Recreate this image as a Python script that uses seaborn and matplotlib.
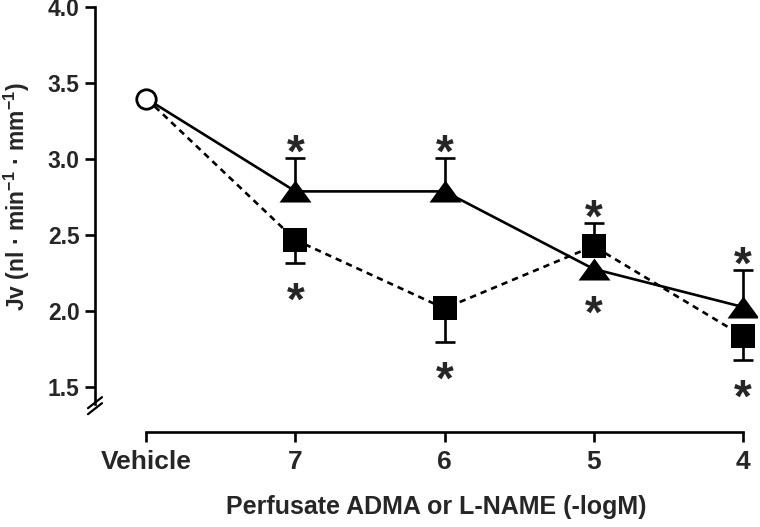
import numpy as np
import pandas as pd
import matplotlib
matplotlib.use('Agg')
import matplotlib.pyplot as plt
import seaborn as sns

# values
labels = ['Vehicle', '7', '6', '5', '4']
adma_mean = [3.40, 2.79, 2.79, 2.28, 2.03]
adma_err_up = [0.0, 0.22, 0.22, 0.0, 0.24]
adma_err_down = [0.0, 0.0, 0.0, 0.05, 0.0]
lname_mean = [3.40, 2.47, 2.02, 2.43, 1.84]
lname_err_up = [0.0, 0.0, 0.0, 0.15, 0.0]
lname_err_down = [0.0, 0.15, 0.22, 0.0, 0.16]
adma_sig = [False, True, True, True, True]
lname_sig = [False, True, True, True, True]

sns.set_style('ticks')
plt.rcParams['font.family'] = ['Liberation Sans', 'DejaVu Sans']
plt.rcParams['font.weight'] = 'bold'
plt.rcParams['mathtext.fontset'] = 'custom'
plt.rcParams['mathtext.rm'] = 'Liberation Sans:bold'
plt.rcParams['mathtext.default'] = 'rm'

pos = np.arange(len(labels))
df = pd.DataFrame({'pos': pos, 'adma': adma_mean, 'lname': lname_mean})

fig = plt.figure(figsize=(7.6, 5.27), dpi=100)
ax = fig.add_axes([0.125, 0.1803, 0.871, 0.8055])

lw = 1.9
sns.lineplot(data=df, x='pos', y='adma', color='black', lw=lw, ax=ax, zorder=2)
sns.lineplot(data=df, x='pos', y='lname', color='black', lw=lw,
             linestyle=(0, (2.4, 1.9)), ax=ax, zorder=2)


def draw_errors(mean, up, down):
    mean = np.asarray(mean)
    up = np.asarray(up)
    down = np.asarray(down)
    ax.errorbar(pos, mean, yerr=[down, up], fmt='none', ecolor='black',
                elinewidth=lw, capsize=0, zorder=2.5)
    tips = np.where(up > 0, mean + up, mean - down)
    has = (up > 0) | (down > 0)
    ax.scatter(pos[has], tips[has], marker='_', s=14 ** 2, color='black',
               linewidths=lw, zorder=2.5)
    return tips


tri = [(-1, -0.69), (1, -0.69), (0, 0.69)]
adma_tips = draw_errors(adma_mean, adma_err_up, adma_err_down)
lname_tips = draw_errors(lname_mean, lname_err_up, lname_err_down)

sns.scatterplot(x=pos[1:], y=adma_mean[1:], marker=tri, s=23 ** 2,
                color='black', edgecolor='black', linewidth=0, ax=ax, zorder=3)
sns.scatterplot(x=pos[1:], y=lname_mean[1:], marker='s', s=17 ** 2,
                color='black', edgecolor='black', linewidth=0, ax=ax, zorder=3)
sns.scatterplot(x=pos[:1], y=adma_mean[:1], marker='o', s=14 ** 2,
                facecolor='white', edgecolor='black', linewidth=2, ax=ax, zorder=4)

# significance stars
for tips, ups, sig in [(adma_tips, adma_err_up, adma_sig),
                       (lname_tips, lname_err_up, lname_sig)]:
    for i in range(len(labels)):
        if not sig[i]:
            continue
        off = -6 if ups[i] > 0 else -37
        ax.annotate('*', (pos[i], tips[i]), xytext=(0, off),
                    textcoords='offset points', ha='center', va='baseline',
                    fontsize=33, fontweight='bold')

ax.set_xlim(-0.3456, 4.097)
ax.set_ylim(1.207, 4.0)
ax.set_xticks(pos)
ax.set_xticklabels(labels, fontsize=19, fontweight='bold')
ax.set_yticks([1.5, 2.0, 2.5, 3.0, 3.5, 4.0])
ax.set_yticklabels(['1.5', '2.0', '2.5', '3.0', '3.5', '4.0'], fontsize=16.5,
                   fontweight='bold')
ax.tick_params(axis='x', length=7, width=lw, pad=6, color='black')
ax.tick_params(axis='y', length=7, width=lw, pad=4, color='black')

sns.despine(ax=ax)
ybot = 1.39
ax.spines['left'].set_bounds(ybot, 4.0)
ax.spines['bottom'].set_bounds(0, 4)
for s in ['left', 'bottom']:
    ax.spines[s].set_linewidth(lw)
    ax.spines[s].set_color('black')

# axis break marks
fy = (ybot - 1.207) / (4.0 - 1.207)
for dy in [-4, 2]:
    ax.plot([-7 / 662, 7 / 662], [fy + (dy - 6) / 424.5, fy + (dy + 5) / 424.5],
            transform=ax.transAxes, color='black', lw=1.6, clip_on=False)

ax.set_ylabel('Jv (nl · min$^{-1}$ · mm$^{-1}$)', fontsize=16.5, fontweight='bold')
ax.yaxis.set_label_coords(-0.095, 0.554)
ax.set_xlabel('Perfusate ADMA or L-NAME (-logM)', fontsize=18, fontweight='bold')
ax.xaxis.set_label_coords(0.515, -0.148)

fig.savefig('out.png', dpi=100)
